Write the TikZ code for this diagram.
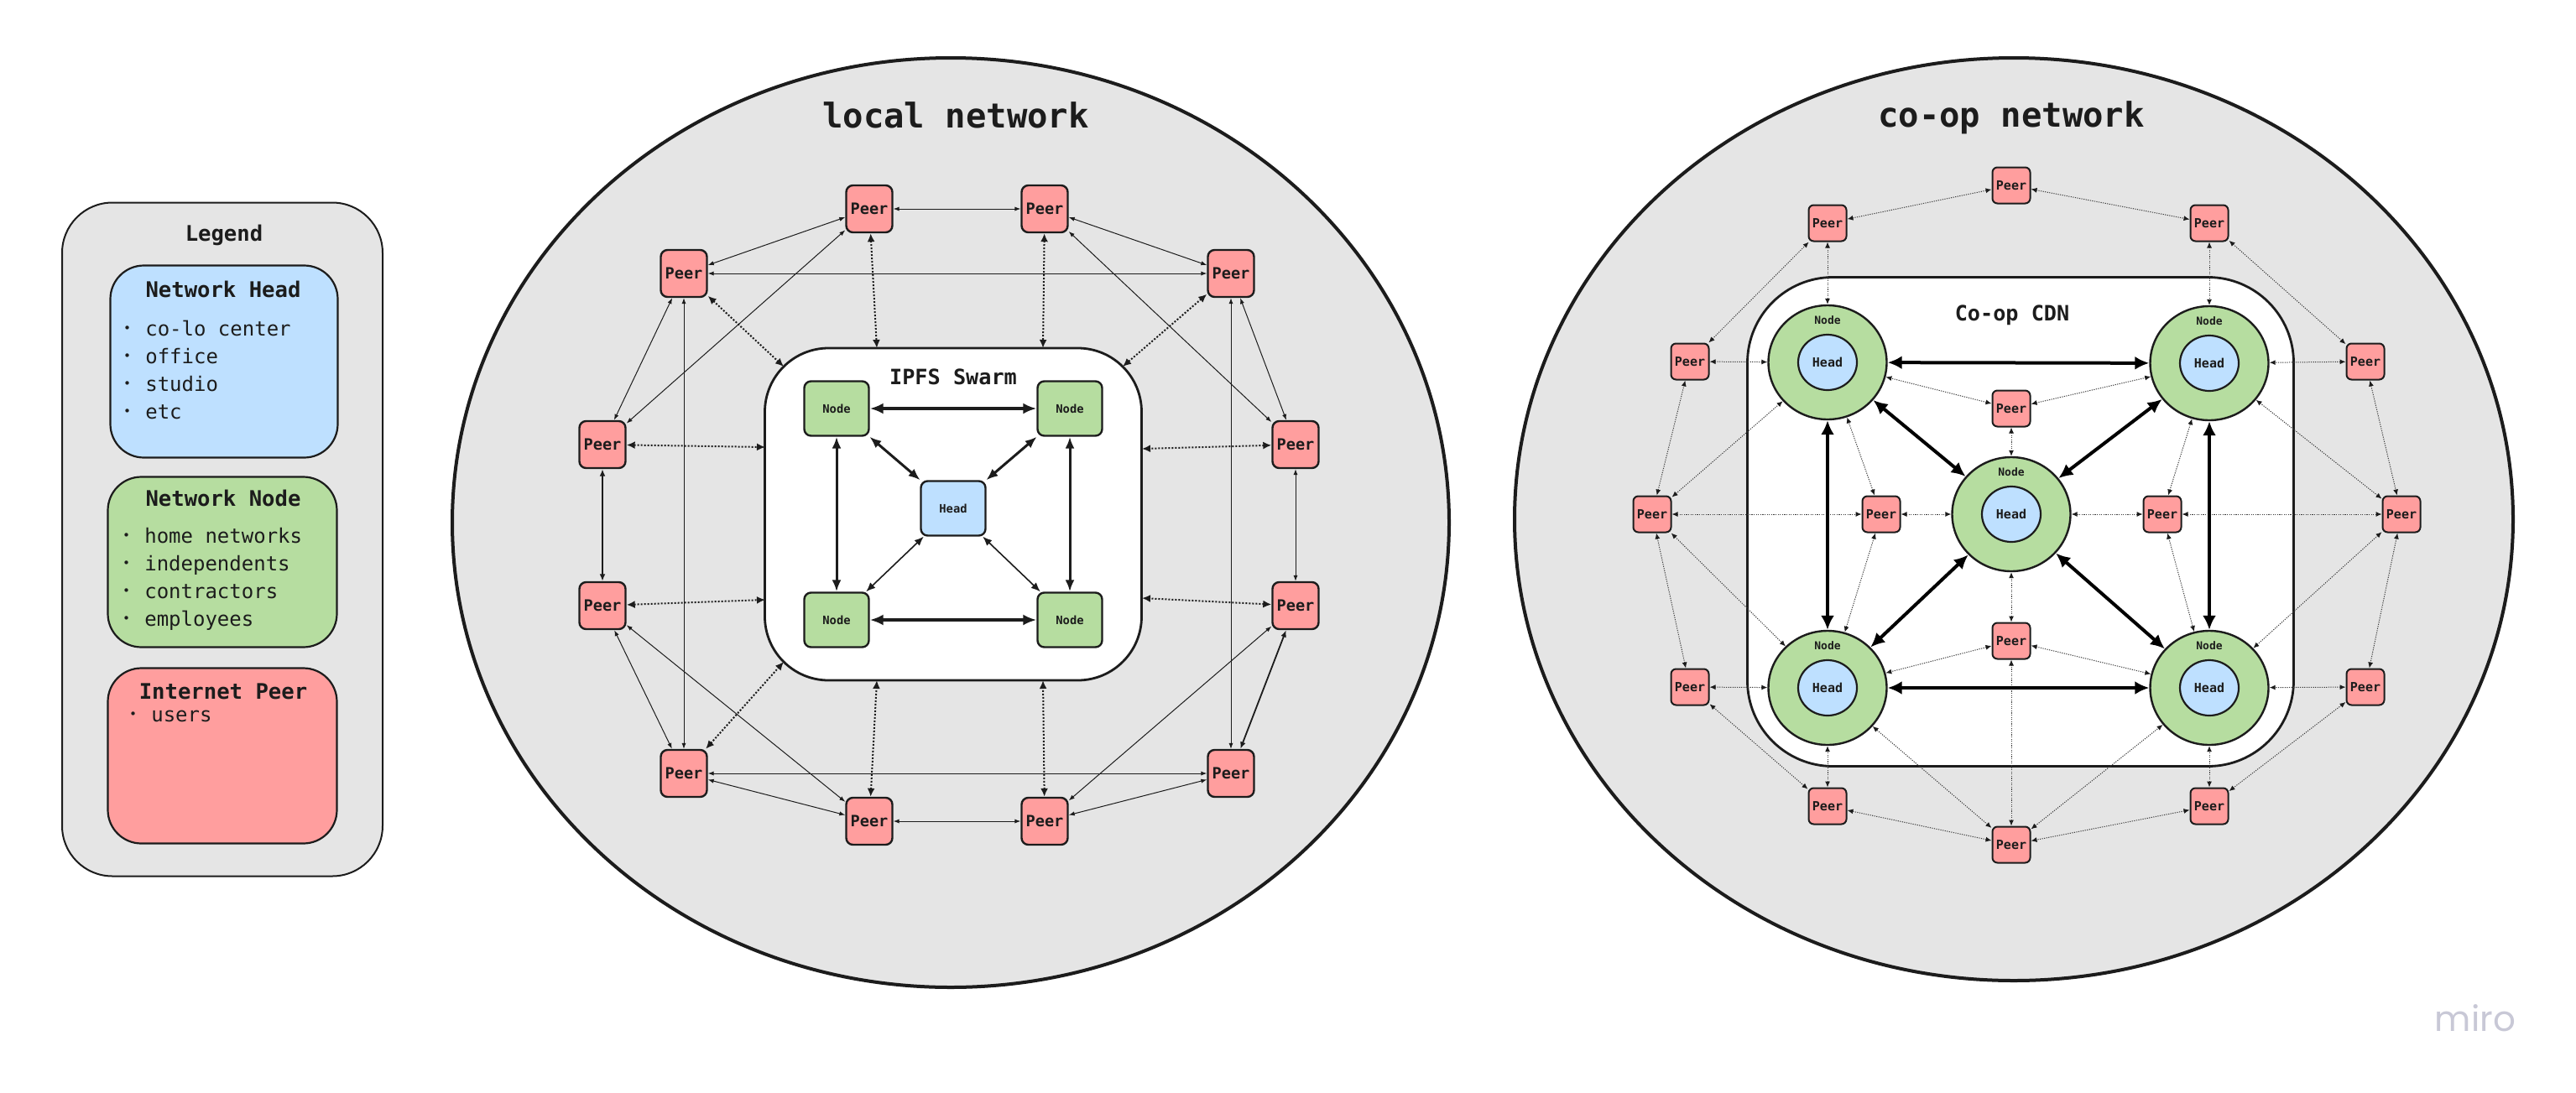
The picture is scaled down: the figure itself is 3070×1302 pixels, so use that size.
\documentclass[tikz,border=0pt]{standalone}
\usepackage{fontspec}
\setmainfont{DejaVu Sans}
\setmonofont{DejaVu Sans Mono}
\newfontfamily\logofont{Poppins}
\usepackage{xcolor}
\usepackage{tikz}
\usetikzlibrary{
  shapes.geometric,
  arrows.meta,
  positioning,
  calc
}
\definecolor{ZoneGray}{RGB}{229,229,229}
\definecolor{PeerRed}{RGB}{255,158,158}
\definecolor{NodeGreen}{RGB}{182,221,160}
\definecolor{HeadBlue}{RGB}{190,224,255}
\definecolor{InkBlack}{RGB}{28,28,28}
\definecolor{EdgeGray}{RGB}{60,60,60}
\definecolor{LogoGray}{RGB}{200,200,214}
\newcommand{\monob}[1]{\ttfamily\bfseries\fontsize{#1}{#1}\selectfont}
\newcommand{\monor}[1]{\ttfamily\fontsize{#1}{#1}\selectfont}
\newcommand{\dotmark}{\makebox[7.23pt]{\raisebox{1.7pt}{\fontsize{7.5}{7.5}\selectfont •}}}
\tikzset{
  %%── zones and group boxes ─────────────────────────────────
  netzone/.style = {
    ellipse, draw = InkBlack, fill = ZoneGray,
    line width = 2pt, inner sep = 0pt
  },
  swarmbox/.style = {
    rectangle, rounded corners = 38pt,
    draw = InkBlack, fill = white,
    line width = 1.4pt, inner sep = 0pt
  },
  zonetitle/.style = {anchor = base, inner sep = 0pt, text = InkBlack, font = \monob{20.3}},
  boxtitle/.style  = {anchor = base, inner sep = 0pt, text = InkBlack, font = \monob{12.6}},
  %%── peers, nodes, heads ───────────────────────────────────
  peer/.style = {
    rectangle, rounded corners = 4pt,
    draw = InkBlack, fill = PeerRed, line width = 1.2pt,
    minimum width = 27.5pt, minimum height = 28pt,
    inner sep = 0pt, text = InkBlack, font = \monob{9.3}
  },
  cpeer/.style = {
    peer, rounded corners = 3pt, line width = 1pt,
    minimum width = 22.5pt, minimum height = 21.5pt,
    font = \monob{7.5}
  },
  lnode/.style = {
    rectangle, rounded corners = 4pt,
    draw = InkBlack, fill = NodeGreen, line width = 1.2pt,
    minimum width = 38.5pt, minimum height = 32.5pt,
    inner sep = 0pt, text = InkBlack, font = \monob{6.9}
  },
  lhead/.style = {lnode, fill = HeadBlue},
  ring/.style = {
    ellipse, draw = InkBlack, fill = NodeGreen, line width = 1.2pt,
    minimum width = 70.5pt, minimum height = 68pt, inner sep = 0pt
  },
  ringhead/.style = {
    ellipse, draw = InkBlack, fill = HeadBlue, line width = 1.1pt,
    minimum width = 35pt, minimum height = 33pt,
    inner sep = 0pt, text = InkBlack, font = \monob{7.5}
  },
  ringtag/.style = {anchor = base, inner sep = 0pt, text = InkBlack, font = \monob{6.5}},
  %%── legend ────────────────────────────────────────────────
  legframe/.style = {
    rectangle, rounded corners = 30pt,
    draw = InkBlack, fill = ZoneGray, line width = 1pt, inner sep = 0pt
  },
  legcard/.style args = {#1}{
    rectangle, rounded corners = 20pt,
    draw = InkBlack, fill = #1, line width = 1.1pt, inner sep = 0pt
  },
  legtitle/.style = {anchor = base, inner sep = 0pt, text = InkBlack, font = \monob{12.8}},
  legitem/.style  = {anchor = base west, inner sep = 0pt, text = InkBlack, font = \monor{12}},
  logo/.style     = {inner sep = 0pt, text = LogoGray, font = \logofont\fontsize{21}{21}\selectfont},
  %%── arrows ────────────────────────────────────────────────
  plink/.style  = {<->, >={Latex[length=3.5pt,width=2.6pt]}, line width = 0.5pt, color = InkBlack},
  plinkb/.style = {<->, >={Latex[length=4.2pt,width=3.4pt]}, line width = 0.9pt, color = InkBlack},
  slink/.style  = {<->, >={Latex[length=5pt,width=4.5pt]}, line width = 1pt,
                   dash pattern = on 1pt off 1pt, color = InkBlack},
  nlink/.style  = {<->, >={Latex[length=8pt,width=6.5pt]}, line width = 2.2pt, color = InkBlack},
  nlinkm/.style = {<->, >={Latex[length=7pt,width=5.5pt]}, line width = 1.5pt, color = InkBlack},
  nlinkt/.style = {<->, >={Latex[length=5.5pt,width=4.5pt]}, line width = 0.8pt, color = InkBlack},
  clink/.style  = {<->, >={Latex[length=3.5pt,width=3pt,color=InkBlack]}, line width = 0.5pt,
                   dash pattern = on 0.6pt off 0.7pt, color = EdgeGray},
  rlink/.style  = {<->, >={Latex[length=8.5pt,width=8pt]}, line width = 2pt, color = black},
}

\begin{document}
\begin{tikzpicture}[x = 0.5pt, y = -0.5pt]

  \fill[white] (0,0) rectangle (3070,1302);
  \useasboundingbox (0,0) rectangle (3070,1302);

  %% ── Legend ───────────────────────────────────────────────
  \node[legframe, minimum width = 191pt, minimum height = 401.5pt] (leg) at (265,643) {};
  \node[legtitle] (legT) at (267,287) {Legend};

  \node[legcard = {HeadBlue}, minimum width = 135.5pt, minimum height = 114.5pt] (legH) at (267,431) {};
  \node[legtitle] (legHT) at (266,354) {Network Head};
  \foreach \txt [count = \i] in {co-lo center, office, studio, etc}
    \node[legitem] (legH\i) at (144,{367+33*\i}) {\dotmark\ \txt};

  \node[legcard = {NodeGreen}, minimum width = 136.5pt, minimum height = 101.5pt] (legN) at (265,670) {};
  \node[legtitle] (legNT) at (266,603) {Network Node};
  \foreach \txt [count = \i] in {home networks, independents, contractors, employees}
    \node[legitem] (legN\i) at (143,{614+33*\i}) {\dotmark\ \txt};

  \node[legcard = {PeerRed}, minimum width = 136.5pt, minimum height = 104.5pt] (legP) at (265,901) {};
  \node[legtitle] (legPT) at (266,833) {Internet Peer};
  \node[legitem] (legP1) at (151,860) {\dotmark\ users};

  %% ── local network ────────────────────────────────────────
  \node[netzone, minimum width = 594pt, minimum height = 554pt] (lnet) at (1133,623) {};
  \node[zonetitle] (lnetT) at (1139,152) {local network};
  \node[swarmbox, minimum width = 224.5pt, minimum height = 198pt] (swarm) at (1136,613) {};
  \node[boxtitle] (swarmT) at (1136,458) {IPFS Swarm};

  \node[lnode] (n1) at (997,487)  {Node};
  \node[lnode] (n2) at (1275,487) {Node};
  \node[lnode] (n3) at (997,739)  {Node};
  \node[lnode] (n4) at (1275,739) {Node};
  \node[lhead] (hd) at (1136,606) {Head};

  \node[peer] (l1)  at (1036,249) {Peer};
  \node[peer] (l2)  at (1245,249) {Peer};
  \node[peer] (l3)  at (1467,326) {Peer};
  \node[peer] (l4)  at (1544,530) {Peer};
  \node[peer] (l5)  at (1544,722) {Peer};
  \node[peer] (l6)  at (1467,922) {Peer};
  \node[peer] (l7)  at (1245,979) {Peer};
  \node[peer] (l8)  at (1036,979) {Peer};
  \node[peer] (l9)  at (815,922)  {Peer};
  \node[peer] (l10) at (718,722)  {Peer};
  \node[peer] (l11) at (718,530)  {Peer};
  \node[peer] (l12) at (815,326)  {Peer};

  %% points on the swarm border
  \coordinate (s1)  at (1045,415);
  \coordinate (s2)  at (1243,415);
  \coordinate (s3)  at (1338,437);
  \coordinate (s4)  at (1361,535);
  \coordinate (s5)  at (1361,713);
  \coordinate (s7)  at (1243,811);
  \coordinate (s8)  at (1045,811);
  \coordinate (s9)  at (934,789);
  \coordinate (s10) at (912,715);
  \coordinate (s11) at (912,533);
  \coordinate (s12) at (934,437);

  %% ── local network: connectors ────────────────────────────
  \foreach \a/\b in {l1/l2, l2/l3, l3/l4, l4/l5, l6/l7, l7/l8, l8/l9, l9/l10, l11/l12, l12/l1,
                     l12/l3, l9/l6, l12/l9, l3/l6, l1/l11, l2/l4, l10/l8, l5/l7}
    \draw[plink] (\a) -- (\b);
  \draw[plinkb] (l10) -- (l11);
  \draw[plinkb] (l5) -- (l6);

  \foreach \a/\b in {l1/s1, l2/s2, l3/s3, l4/s4, l5/s5, l7/s7, l8/s8, l9/s9, l10/s10, l11/s11, l12/s12}
    \draw[slink] (\a) -- (\b);

  \draw[nlink]  (n1) -- (n2);
  \draw[nlink]  (n3) -- (n4);
  \draw[nlinkm] (n1) -- (n3);
  \draw[nlinkm] (n2) -- (n4);
  \draw[nlinkm] (n1) -- (hd);
  \draw[nlinkm] (n2) -- (hd);
  \draw[nlinkt] (hd) -- (n3);
  \draw[nlinkt] (hd) -- (n4);

  %% ── co-op network ────────────────────────────────────────
  \node[netzone, minimum width = 595pt, minimum height = 550pt] (cnet) at (2400,619) {};
  \node[zonetitle] (cnetT) at (2397,151) {co-op network};
  \node[swarmbox, rounded corners = 51pt, minimum width = 325.5pt, minimum height = 291.5pt] (cdn) at (2408,622) {};
  \node[boxtitle] (cdnT) at (2398,382) {Co-op CDN};

  \foreach \n/\x/\y in {r0/2397/613, r1/2178/432, r2/2633/433, r3/2633/820, r4/2178/820} {
    \node[ring] (\n) at (\x,\y) {};
    \node[ringhead] (\n-h) at (\x,\y) {Head};
    \node[ringtag] (\n-t) at (\x,\y-46) {Node};
  }

  \node[cpeer] (c1)  at (2397,221)  {Peer};
  \node[cpeer] (c2)  at (2633,266)  {Peer};
  \node[cpeer] (c3)  at (2819,431)  {Peer};
  \node[cpeer] (c4)  at (2862,613)  {Peer};
  \node[cpeer] (c5)  at (2819,819)  {Peer};
  \node[cpeer] (c6)  at (2633,961)  {Peer};
  \node[cpeer] (c7)  at (2397,1007) {Peer};
  \node[cpeer] (c8)  at (2178,961)  {Peer};
  \node[cpeer] (c9)  at (2014,819)  {Peer};
  \node[cpeer] (c10) at (1969,613)  {Peer};
  \node[cpeer] (c11) at (2014,431)  {Peer};
  \node[cpeer] (c12) at (2178,266)  {Peer};

  \node[cpeer] (ci1) at (2397,487) {Peer};
  \node[cpeer] (ci2) at (2577,613) {Peer};
  \node[cpeer] (ci3) at (2397,764) {Peer};
  \node[cpeer] (ci4) at (2242,613) {Peer};

  %% ── co-op network: connectors ────────────────────────────
  \foreach \a/\b in {c1/c2, c2/c3, c3/c4, c4/c5, c5/c6, c6/c7, c7/c8, c8/c9, c9/c10, c10/c11, c11/c12, c12/c1,
                     c12/r1, c11/r1, c10/r1, c10/r4, c9/r4, c8/r4,
                     c2/r2, c3/r2, c4/r2, c4/r3, c5/r3, c6/r3,
                     c7/r4, c7/r3, c7/ci3, c10/ci4, c4/ci2,
                     ci1/r1, ci1/r2, ci1/r0, ci3/r4, ci3/r3, ci3/r0,
                     ci4/r1, ci4/r4, ci4/r0, ci2/r2, ci2/r3, ci2/r0}
    \draw[clink] (\a) -- (\b);

  \foreach \a/\b in {r1/r2, r4/r3, r1/r4, r2/r3, r0/r1, r0/r2, r0/r3, r0/r4}
    \draw[rlink] (\a) -- (\b);

  %% ── logo ─────────────────────────────────────────────────
  \node[logo] (miro) at (2950,1214) {miro};

\end{tikzpicture}
\end{document}
